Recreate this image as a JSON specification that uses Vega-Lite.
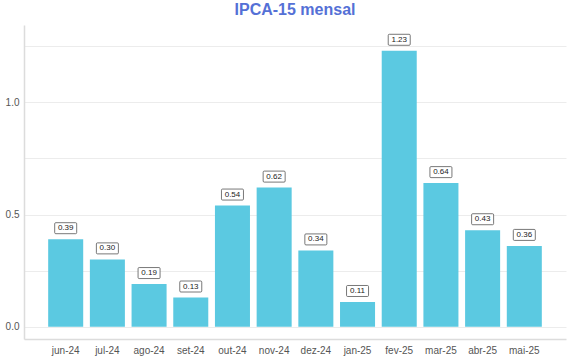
{
  "$schema": "https://vega.github.io/schema/vega-lite/v6.json",
  "width": 542,
  "height": 314,
  "autosize": {"type": "none"},
  "padding": {"left": 24, "top": 25, "right": 4, "bottom": 21},
  "background": "white",
  "title": {
    "text": "IPCA-15 mensal",
    "color": "#5470d6",
    "font": "Liberation Sans",
    "fontSize": 16,
    "fontWeight": "bold",
    "anchor": "middle",
    "offset": 7
  },
  "config": {
    "view": {"stroke": null},
    "font": "Liberation Sans"
  },
  "data": {
    "values": [
      {"mes": "jun-24", "v": 0.39},
      {"mes": "jul-24", "v": 0.30},
      {"mes": "ago-24", "v": 0.19},
      {"mes": "set-24", "v": 0.13},
      {"mes": "out-24", "v": 0.54},
      {"mes": "nov-24", "v": 0.62},
      {"mes": "dez-24", "v": 0.34},
      {"mes": "jan-25", "v": 0.11},
      {"mes": "fev-25", "v": 1.23},
      {"mes": "mar-25", "v": 0.64},
      {"mes": "abr-25", "v": 0.43},
      {"mes": "mai-25", "v": 0.36}
    ]
  },
  "encoding": {
    "x": {
      "field": "mes",
      "type": "nominal",
      "sort": null,
      "title": null,
      "scale": {"paddingInner": 0.16, "paddingOuter": 0.58},
      "axis": {
        "labelAngle": 0,
        "labelColor": "#555",
        "labelFontSize": 10,
        "labelPadding": 6,
        "ticks": false,
        "domainColor": "#dcdcdc",
        "domainWidth": 1.5,
        "grid": false
      }
    },
    "y": {
      "field": "v",
      "type": "quantitative",
      "title": null,
      "scale": {"domain": [-0.055, 1.345], "nice": false, "zero": false},
      "axis": {
        "values": [0, 0.25, 0.5, 0.75, 1.0, 1.25],
        "labelExpr": "datum.value == 0 || datum.value == 0.5 || datum.value == 1 ? format(datum.value, '.1f') : ''",
        "labelColor": "#555",
        "labelFontSize": 10,
        "labelPadding": 5,
        "ticks": false,
        "domainColor": "#dcdcdc",
        "domainWidth": 1.5,
        "gridColor": "#ececec",
        "gridWidth": 1
      }
    }
  },
  "layer": [
    {
      "mark": {"type": "bar", "color": "#5bc9e1", "y2": {"expr": "scale('y', 0)"}},
      "encoding": {"y2": {"datum": 0}}
    },
    {
      "mark": {
        "type": "point",
        "shape": "M-0.9,-0.5H0.9Q1,-0.5 1,-0.4V0.4Q1,0.5 0.9,0.5H-0.9Q-1,0.5 -1,0.4V-0.4Q-1,-0.5 -0.9,-0.5Z",
        "size": 484,
        "filled": true,
        "fill": "white",
        "stroke": "#555",
        "strokeWidth": 0.8,
        "opacity": 1,
        "yOffset": -11
      }
    },
    {
      "mark": {"type": "text", "dy": -11, "fontSize": 8, "color": "#222", "baseline": "middle"},
      "encoding": {"text": {"field": "v", "type": "quantitative", "format": ".2f"}}
    }
  ]
}
